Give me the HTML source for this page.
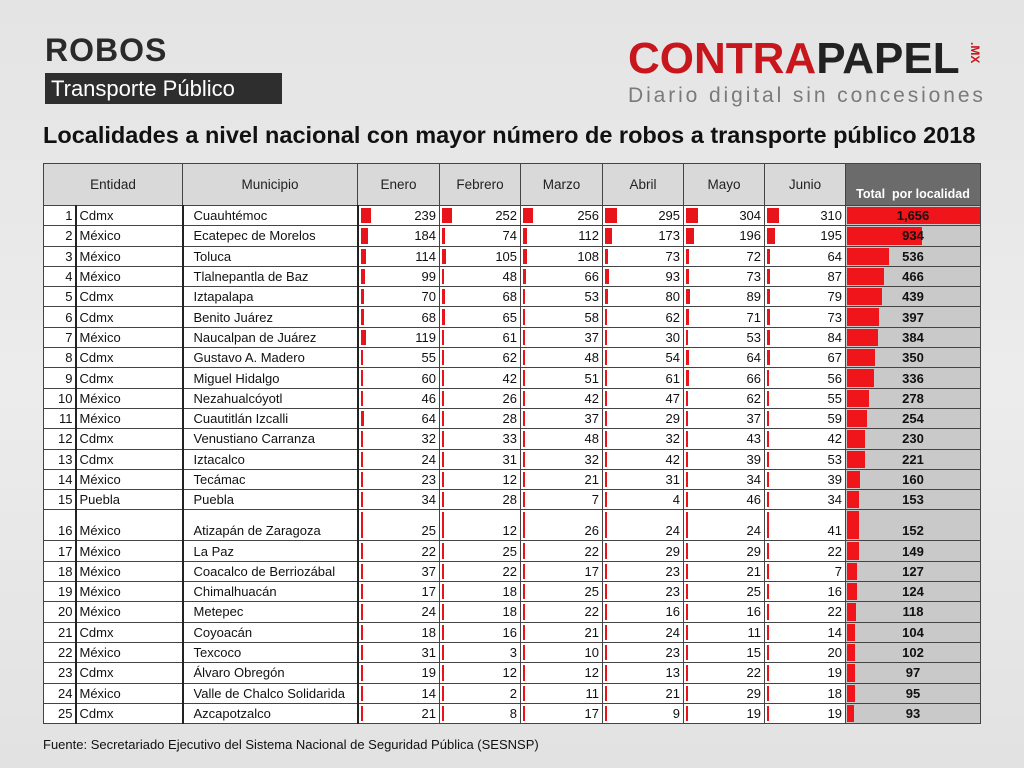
<!DOCTYPE html>
<html><head><meta charset="utf-8"><style>
body{margin:0;width:1024px;height:768px;background:linear-gradient(#e4e4e4,#ececec 50%,#e2e2e2);font-family:"Liberation Sans","DejaVu Sans",sans-serif;position:relative;overflow:hidden}
.t1{position:absolute;left:45px;top:32px;font-size:32px;font-weight:bold;color:#2a2a2a;letter-spacing:1px}
.t2{position:absolute;left:45px;top:73px;width:237px;height:31px;background:#2e2e2e;color:#fff;font-size:22px;line-height:31px;text-indent:6px}
.logo{position:absolute;left:628px;top:36px;font-size:44px;font-weight:bold;letter-spacing:0px;font-family:"Liberation Sans",sans-serif;line-height:46px;white-space:nowrap}
.logo .r{color:#c8161d}.logo .k{color:#222}
.mx{position:absolute;left:968px;top:42px;font-size:12px;color:#c8161d;font-weight:bold;writing-mode:vertical-rl}
.tag{position:absolute;left:628px;top:84px;font-size:21px;color:#7a7a7a;letter-spacing:2.9px;white-space:nowrap}
.sub{position:absolute;left:43px;top:122px;font-size:23.5px;font-weight:bold;color:#111;white-space:nowrap}
table{position:absolute;left:43px;top:163px;border-collapse:collapse;table-layout:fixed;width:937px;font-size:13px;color:#111}
td,th{border:1px solid #444;padding:0 3px;height:19.3px;line-height:19px;position:relative;white-space:nowrap;overflow:hidden}
th{height:41px;font-weight:normal;background:#d9d9d9;font-size:13.5px;color:#222}
th.tot{background:#6b6b6b;color:#fff;font-weight:bold;font-size:12.5px;vertical-align:bottom;line-height:22px}
tr.b td{background:#fff}
td:nth-child(1){text-align:right;padding-right:2px;border-right:2px solid #222}
td:nth-child(2){border-right:2px solid #222;padding-left:3px}
td:nth-child(3){border-right:2px solid #222;padding-left:10px}
td.n{text-align:right}
td.n i{position:absolute;left:2px;top:2px;bottom:2px;background:#e8141b;min-width:2px}
td.tt{background:#c9c9c9 !important;text-align:center;font-weight:bold;padding:0}
td.tt i{position:absolute;left:1px;top:1px;bottom:1px;background:#f0141b}
td.tt span{position:relative}
tr.tall td{height:30px;vertical-align:bottom}
.foot{position:absolute;left:43px;top:737px;font-size:13px;color:#111}
</style></head><body>
<div class="t1">ROBOS</div>
<div class="t2">Transporte Público</div>
<div class="logo"><span class="r">CONTRA</span><span class="k">PAPEL</span></div>
<div class="mx">.MX</div>
<div class="tag">Diario digital sin concesiones</div>
<div class="sub">Localidades a nivel nacional con mayor número de robos a transporte público 2018</div>
<table>
<colgroup><col style="width:32px"><col style="width:107px"><col style="width:175px"><col style="width:82px"><col style="width:81px"><col style="width:82px"><col style="width:81px"><col style="width:81px"><col style="width:81px"><col style="width:135px"></colgroup>
<tr><th colspan="2">Entidad</th><th>Municipio</th><th>Enero</th><th>Febrero</th><th>Marzo</th><th>Abril</th><th>Mayo</th><th>Junio</th><th class="tot">Total &nbsp;por localidad</th></tr>
<tr class="b"><td>1</td><td>Cdmx</td><td>Cuauhtémoc</td><td class="n"><i style="width:10px"></i>239</td><td class="n"><i style="width:10px"></i>252</td><td class="n"><i style="width:10px"></i>256</td><td class="n"><i style="width:12px"></i>295</td><td class="n"><i style="width:12px"></i>304</td><td class="n"><i style="width:12px"></i>310</td><td class="tt"><i style="width:133px"></i><span>1,656</span></td></tr>
<tr class="b"><td>2</td><td>México</td><td>Ecatepec de Morelos</td><td class="n"><i style="width:7px"></i>184</td><td class="n"><i style="width:3px"></i>74</td><td class="n"><i style="width:4px"></i>112</td><td class="n"><i style="width:7px"></i>173</td><td class="n"><i style="width:8px"></i>196</td><td class="n"><i style="width:8px"></i>195</td><td class="tt"><i style="width:75px"></i><span>934</span></td></tr>
<tr class="b"><td>3</td><td>México</td><td>Toluca</td><td class="n"><i style="width:5px"></i>114</td><td class="n"><i style="width:4px"></i>105</td><td class="n"><i style="width:4px"></i>108</td><td class="n"><i style="width:3px"></i>73</td><td class="n"><i style="width:3px"></i>72</td><td class="n"><i style="width:3px"></i>64</td><td class="tt"><i style="width:42px"></i><span>536</span></td></tr>
<tr class="b"><td>4</td><td>México</td><td>Tlalnepantla de Baz</td><td class="n"><i style="width:4px"></i>99</td><td class="n"><i style="width:2px"></i>48</td><td class="n"><i style="width:3px"></i>66</td><td class="n"><i style="width:4px"></i>93</td><td class="n"><i style="width:3px"></i>73</td><td class="n"><i style="width:3px"></i>87</td><td class="tt"><i style="width:37px"></i><span>466</span></td></tr>
<tr class="b"><td>5</td><td>Cdmx</td><td>Iztapalapa</td><td class="n"><i style="width:3px"></i>70</td><td class="n"><i style="width:3px"></i>68</td><td class="n"><i style="width:2px"></i>53</td><td class="n"><i style="width:3px"></i>80</td><td class="n"><i style="width:4px"></i>89</td><td class="n"><i style="width:3px"></i>79</td><td class="tt"><i style="width:35px"></i><span>439</span></td></tr>
<tr class="b"><td>6</td><td>Cdmx</td><td>Benito Juárez</td><td class="n"><i style="width:3px"></i>68</td><td class="n"><i style="width:3px"></i>65</td><td class="n"><i style="width:2px"></i>58</td><td class="n"><i style="width:2px"></i>62</td><td class="n"><i style="width:3px"></i>71</td><td class="n"><i style="width:3px"></i>73</td><td class="tt"><i style="width:32px"></i><span>397</span></td></tr>
<tr class="b"><td>7</td><td>México</td><td>Naucalpan de Juárez</td><td class="n"><i style="width:5px"></i>119</td><td class="n"><i style="width:2px"></i>61</td><td class="n"><i style="width:2px"></i>37</td><td class="n"><i style="width:2px"></i>30</td><td class="n"><i style="width:2px"></i>53</td><td class="n"><i style="width:3px"></i>84</td><td class="tt"><i style="width:31px"></i><span>384</span></td></tr>
<tr class="b"><td>8</td><td>Cdmx</td><td>Gustavo A. Madero</td><td class="n"><i style="width:2px"></i>55</td><td class="n"><i style="width:2px"></i>62</td><td class="n"><i style="width:2px"></i>48</td><td class="n"><i style="width:2px"></i>54</td><td class="n"><i style="width:3px"></i>64</td><td class="n"><i style="width:3px"></i>67</td><td class="tt"><i style="width:28px"></i><span>350</span></td></tr>
<tr class="b"><td>9</td><td>Cdmx</td><td>Miguel Hidalgo</td><td class="n"><i style="width:2px"></i>60</td><td class="n"><i style="width:2px"></i>42</td><td class="n"><i style="width:2px"></i>51</td><td class="n"><i style="width:2px"></i>61</td><td class="n"><i style="width:3px"></i>66</td><td class="n"><i style="width:2px"></i>56</td><td class="tt"><i style="width:27px"></i><span>336</span></td></tr>
<tr class="b"><td>10</td><td>México</td><td>Nezahualcóyotl</td><td class="n"><i style="width:2px"></i>46</td><td class="n"><i style="width:1px"></i>26</td><td class="n"><i style="width:2px"></i>42</td><td class="n"><i style="width:2px"></i>47</td><td class="n"><i style="width:2px"></i>62</td><td class="n"><i style="width:2px"></i>55</td><td class="tt"><i style="width:22px"></i><span>278</span></td></tr>
<tr class="b"><td>11</td><td>México</td><td>Cuautitlán Izcalli</td><td class="n"><i style="width:3px"></i>64</td><td class="n"><i style="width:1px"></i>28</td><td class="n"><i style="width:2px"></i>37</td><td class="n"><i style="width:1px"></i>29</td><td class="n"><i style="width:2px"></i>37</td><td class="n"><i style="width:2px"></i>59</td><td class="tt"><i style="width:20px"></i><span>254</span></td></tr>
<tr class="b"><td>12</td><td>Cdmx</td><td>Venustiano Carranza</td><td class="n"><i style="width:1px"></i>32</td><td class="n"><i style="width:1px"></i>33</td><td class="n"><i style="width:2px"></i>48</td><td class="n"><i style="width:1px"></i>32</td><td class="n"><i style="width:2px"></i>43</td><td class="n"><i style="width:2px"></i>42</td><td class="tt"><i style="width:18px"></i><span>230</span></td></tr>
<tr class="b"><td>13</td><td>Cdmx</td><td>Iztacalco</td><td class="n"><i style="width:1px"></i>24</td><td class="n"><i style="width:1px"></i>31</td><td class="n"><i style="width:1px"></i>32</td><td class="n"><i style="width:2px"></i>42</td><td class="n"><i style="width:2px"></i>39</td><td class="n"><i style="width:2px"></i>53</td><td class="tt"><i style="width:18px"></i><span>221</span></td></tr>
<tr class="b"><td>14</td><td>México</td><td>Tecámac</td><td class="n"><i style="width:1px"></i>23</td><td class="n"><i style="width:1px"></i>12</td><td class="n"><i style="width:1px"></i>21</td><td class="n"><i style="width:1px"></i>31</td><td class="n"><i style="width:1px"></i>34</td><td class="n"><i style="width:2px"></i>39</td><td class="tt"><i style="width:13px"></i><span>160</span></td></tr>
<tr class="b"><td>15</td><td>Puebla</td><td>Puebla</td><td class="n"><i style="width:1px"></i>34</td><td class="n"><i style="width:1px"></i>28</td><td class="n"><i style="width:1px"></i>7</td><td class="n"><i style="width:1px"></i>4</td><td class="n"><i style="width:2px"></i>46</td><td class="n"><i style="width:1px"></i>34</td><td class="tt"><i style="width:12px"></i><span>153</span></td></tr>
<tr class="b tall"><td>16</td><td>México</td><td>Atizapán de Zaragoza</td><td class="n"><i style="width:1px"></i>25</td><td class="n"><i style="width:1px"></i>12</td><td class="n"><i style="width:1px"></i>26</td><td class="n"><i style="width:1px"></i>24</td><td class="n"><i style="width:1px"></i>24</td><td class="n"><i style="width:2px"></i>41</td><td class="tt"><i style="width:12px"></i><span>152</span></td></tr>
<tr class="b"><td>17</td><td>México</td><td>La Paz</td><td class="n"><i style="width:1px"></i>22</td><td class="n"><i style="width:1px"></i>25</td><td class="n"><i style="width:1px"></i>22</td><td class="n"><i style="width:1px"></i>29</td><td class="n"><i style="width:1px"></i>29</td><td class="n"><i style="width:1px"></i>22</td><td class="tt"><i style="width:12px"></i><span>149</span></td></tr>
<tr class="b"><td>18</td><td>México</td><td>Coacalco de Berriozábal</td><td class="n"><i style="width:2px"></i>37</td><td class="n"><i style="width:1px"></i>22</td><td class="n"><i style="width:1px"></i>17</td><td class="n"><i style="width:1px"></i>23</td><td class="n"><i style="width:1px"></i>21</td><td class="n"><i style="width:1px"></i>7</td><td class="tt"><i style="width:10px"></i><span>127</span></td></tr>
<tr class="b"><td>19</td><td>México</td><td>Chimalhuacán</td><td class="n"><i style="width:1px"></i>17</td><td class="n"><i style="width:1px"></i>18</td><td class="n"><i style="width:1px"></i>25</td><td class="n"><i style="width:1px"></i>23</td><td class="n"><i style="width:1px"></i>25</td><td class="n"><i style="width:1px"></i>16</td><td class="tt"><i style="width:10px"></i><span>124</span></td></tr>
<tr class="b"><td>20</td><td>México</td><td>Metepec</td><td class="n"><i style="width:1px"></i>24</td><td class="n"><i style="width:1px"></i>18</td><td class="n"><i style="width:1px"></i>22</td><td class="n"><i style="width:1px"></i>16</td><td class="n"><i style="width:1px"></i>16</td><td class="n"><i style="width:1px"></i>22</td><td class="tt"><i style="width:9px"></i><span>118</span></td></tr>
<tr class="b"><td>21</td><td>Cdmx</td><td>Coyoacán</td><td class="n"><i style="width:1px"></i>18</td><td class="n"><i style="width:1px"></i>16</td><td class="n"><i style="width:1px"></i>21</td><td class="n"><i style="width:1px"></i>24</td><td class="n"><i style="width:1px"></i>11</td><td class="n"><i style="width:1px"></i>14</td><td class="tt"><i style="width:8px"></i><span>104</span></td></tr>
<tr class="b"><td>22</td><td>México</td><td>Texcoco</td><td class="n"><i style="width:1px"></i>31</td><td class="n"><i style="width:1px"></i>3</td><td class="n"><i style="width:1px"></i>10</td><td class="n"><i style="width:1px"></i>23</td><td class="n"><i style="width:1px"></i>15</td><td class="n"><i style="width:1px"></i>20</td><td class="tt"><i style="width:8px"></i><span>102</span></td></tr>
<tr class="b"><td>23</td><td>Cdmx</td><td>Álvaro Obregón</td><td class="n"><i style="width:1px"></i>19</td><td class="n"><i style="width:1px"></i>12</td><td class="n"><i style="width:1px"></i>12</td><td class="n"><i style="width:1px"></i>13</td><td class="n"><i style="width:1px"></i>22</td><td class="n"><i style="width:1px"></i>19</td><td class="tt"><i style="width:8px"></i><span>97</span></td></tr>
<tr class="b"><td>24</td><td>México</td><td>Valle de Chalco Solidarida</td><td class="n"><i style="width:1px"></i>14</td><td class="n"><i style="width:1px"></i>2</td><td class="n"><i style="width:1px"></i>11</td><td class="n"><i style="width:1px"></i>21</td><td class="n"><i style="width:1px"></i>29</td><td class="n"><i style="width:1px"></i>18</td><td class="tt"><i style="width:8px"></i><span>95</span></td></tr>
<tr class="b"><td>25</td><td>Cdmx</td><td>Azcapotzalco</td><td class="n"><i style="width:1px"></i>21</td><td class="n"><i style="width:1px"></i>8</td><td class="n"><i style="width:1px"></i>17</td><td class="n"><i style="width:1px"></i>9</td><td class="n"><i style="width:1px"></i>19</td><td class="n"><i style="width:1px"></i>19</td><td class="tt"><i style="width:7px"></i><span>93</span></td></tr>
</table>
<div class="foot">Fuente: Secretariado Ejecutivo del Sistema Nacional de Seguridad Pública (SESNSP)</div>
</body></html>
